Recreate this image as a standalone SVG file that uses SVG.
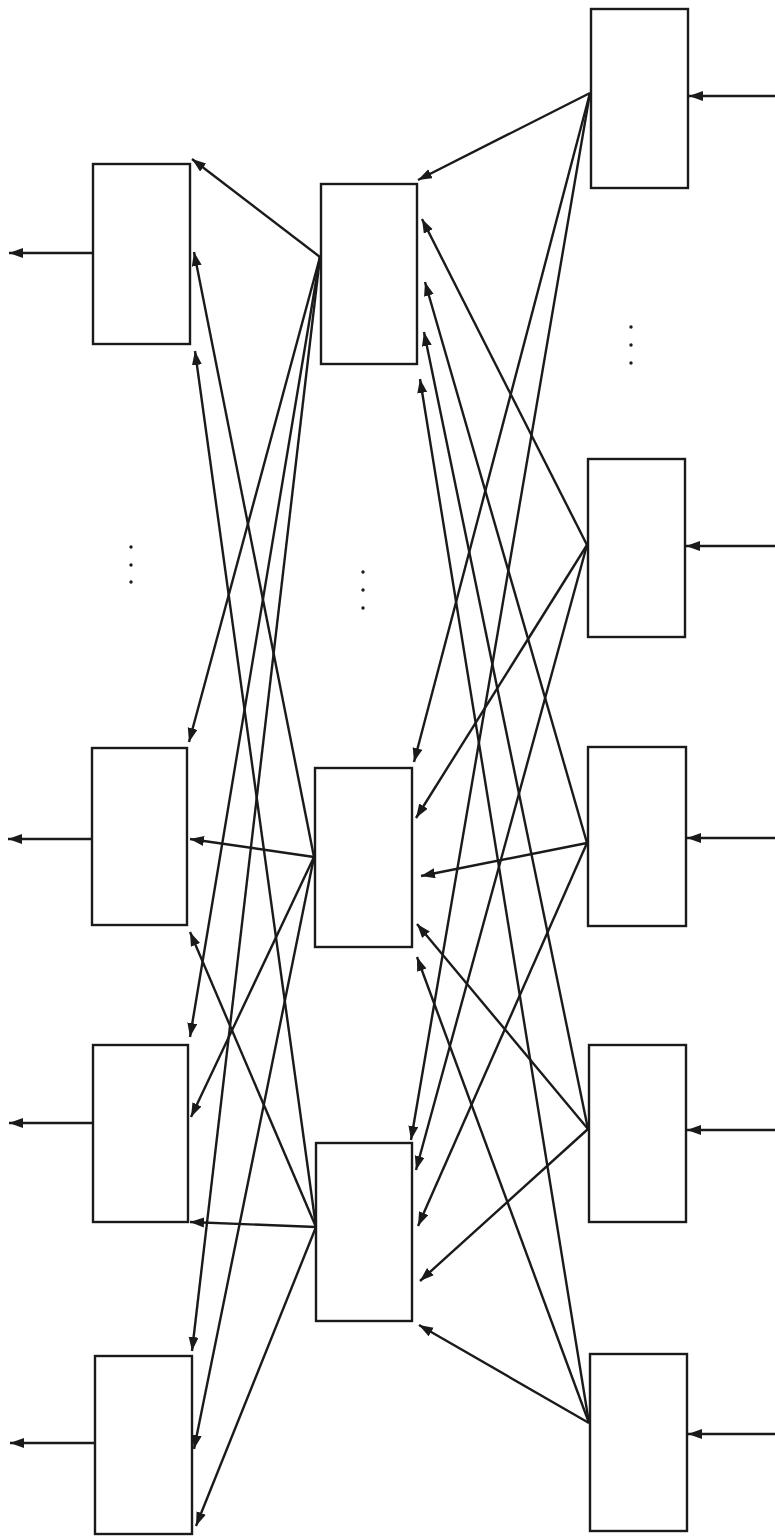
<svg xmlns="http://www.w3.org/2000/svg" width="775" height="1537" viewBox="0 0 775 1537">
<style>
.box{fill:#ffffff;stroke:#1a1a1a;stroke-width:2.4}
.ln{fill:none;stroke:#1a1a1a;stroke-width:2.4;marker-end:url(#ah)}
.dot{fill:#1a1a1a}
</style>
<defs>
<marker id="ah" markerUnits="userSpaceOnUse" markerWidth="16" markerHeight="12" refX="14" refY="5" orient="auto">
<path d="M0,0 L14,5 L0,10 z" fill="#1a1a1a"/>
</marker>
</defs>
<rect width="775" height="1537" fill="#ffffff"/>
<g id="input-R1"><rect class="box" x="591" y="9" width="97" height="179"/></g>
<g id="input-R2"><rect class="box" x="588" y="459" width="97" height="178"/></g>
<g id="input-R3"><rect class="box" x="588" y="747" width="98" height="179"/></g>
<g id="input-R4"><rect class="box" x="589" y="1045" width="97" height="177"/></g>
<g id="input-R5"><rect class="box" x="590" y="1354" width="97" height="177"/></g>
<g id="hidden-M1"><rect class="box" x="321" y="184" width="96" height="180"/></g>
<g id="hidden-M2"><rect class="box" x="315" y="768" width="97" height="179"/></g>
<g id="hidden-M3"><rect class="box" x="316" y="1143" width="96" height="178"/></g>
<g id="output-L1"><rect class="box" x="93" y="164" width="97" height="180"/></g>
<g id="output-L2"><rect class="box" x="92" y="748" width="95" height="177"/></g>
<g id="output-L3"><rect class="box" x="93" y="1045" width="95" height="177"/></g>
<g id="output-L4"><rect class="box" x="95" y="1356" width="97" height="178"/></g>
<g id="ellipses">
<circle class="dot" cx="631" cy="327" r="1.7"/><circle class="dot" cx="631" cy="345" r="1.7"/><circle class="dot" cx="631" cy="363" r="1.7"/>
<circle class="dot" cx="131" cy="547" r="1.7"/><circle class="dot" cx="131" cy="565" r="1.7"/><circle class="dot" cx="131" cy="582" r="1.7"/>
<circle class="dot" cx="363" cy="572" r="1.7"/><circle class="dot" cx="363" cy="590" r="1.7"/><circle class="dot" cx="363" cy="608" r="1.7"/>
</g>
<g id="connectors">
<line class="ln" x1="775" y1="96" x2="689" y2="96"/>
<line class="ln" x1="775" y1="546" x2="686" y2="546"/>
<line class="ln" x1="775" y1="838" x2="687" y2="838"/>
<line class="ln" x1="775" y1="1130" x2="687" y2="1130"/>
<line class="ln" x1="775" y1="1434" x2="688" y2="1434"/>
<line class="ln" x1="93" y1="253" x2="9" y2="253"/>
<line class="ln" x1="92" y1="839" x2="8" y2="839"/>
<line class="ln" x1="93" y1="1123" x2="9" y2="1123"/>
<line class="ln" x1="95" y1="1443" x2="10" y2="1443"/>
<line class="ln" x1="590" y1="93" x2="418" y2="180"/>
<line class="ln" x1="590" y1="93" x2="414" y2="762"/>
<line class="ln" x1="590" y1="93" x2="411" y2="1140"/>
<line class="ln" x1="587" y1="545" x2="422" y2="219"/>
<line class="ln" x1="587" y1="545" x2="416" y2="818"/>
<line class="ln" x1="587" y1="545" x2="416" y2="1170"/>
<line class="ln" x1="587" y1="843" x2="425" y2="282"/>
<line class="ln" x1="587" y1="843" x2="421" y2="876"/>
<line class="ln" x1="587" y1="843" x2="418" y2="1226"/>
<line class="ln" x1="588" y1="1129" x2="424" y2="332"/>
<line class="ln" x1="588" y1="1129" x2="417" y2="924"/>
<line class="ln" x1="588" y1="1129" x2="420" y2="1281"/>
<line class="ln" x1="589" y1="1423" x2="420" y2="379"/>
<line class="ln" x1="589" y1="1423" x2="417" y2="957"/>
<line class="ln" x1="589" y1="1423" x2="419" y2="1325"/>
<line class="ln" x1="320" y1="257" x2="192" y2="159"/>
<line class="ln" x1="320" y1="257" x2="189" y2="742"/>
<line class="ln" x1="320" y1="257" x2="190" y2="1037"/>
<line class="ln" x1="320" y1="257" x2="192" y2="1351"/>
<line class="ln" x1="314" y1="857" x2="194" y2="252"/>
<line class="ln" x1="314" y1="857" x2="190" y2="839"/>
<line class="ln" x1="314" y1="857" x2="191" y2="1117"/>
<line class="ln" x1="314" y1="857" x2="194" y2="1449"/>
<line class="ln" x1="316" y1="1227" x2="195" y2="351"/>
<line class="ln" x1="316" y1="1227" x2="190" y2="932"/>
<line class="ln" x1="316" y1="1227" x2="190" y2="1222"/>
<line class="ln" x1="316" y1="1227" x2="196" y2="1526"/>
</g>
</svg>
